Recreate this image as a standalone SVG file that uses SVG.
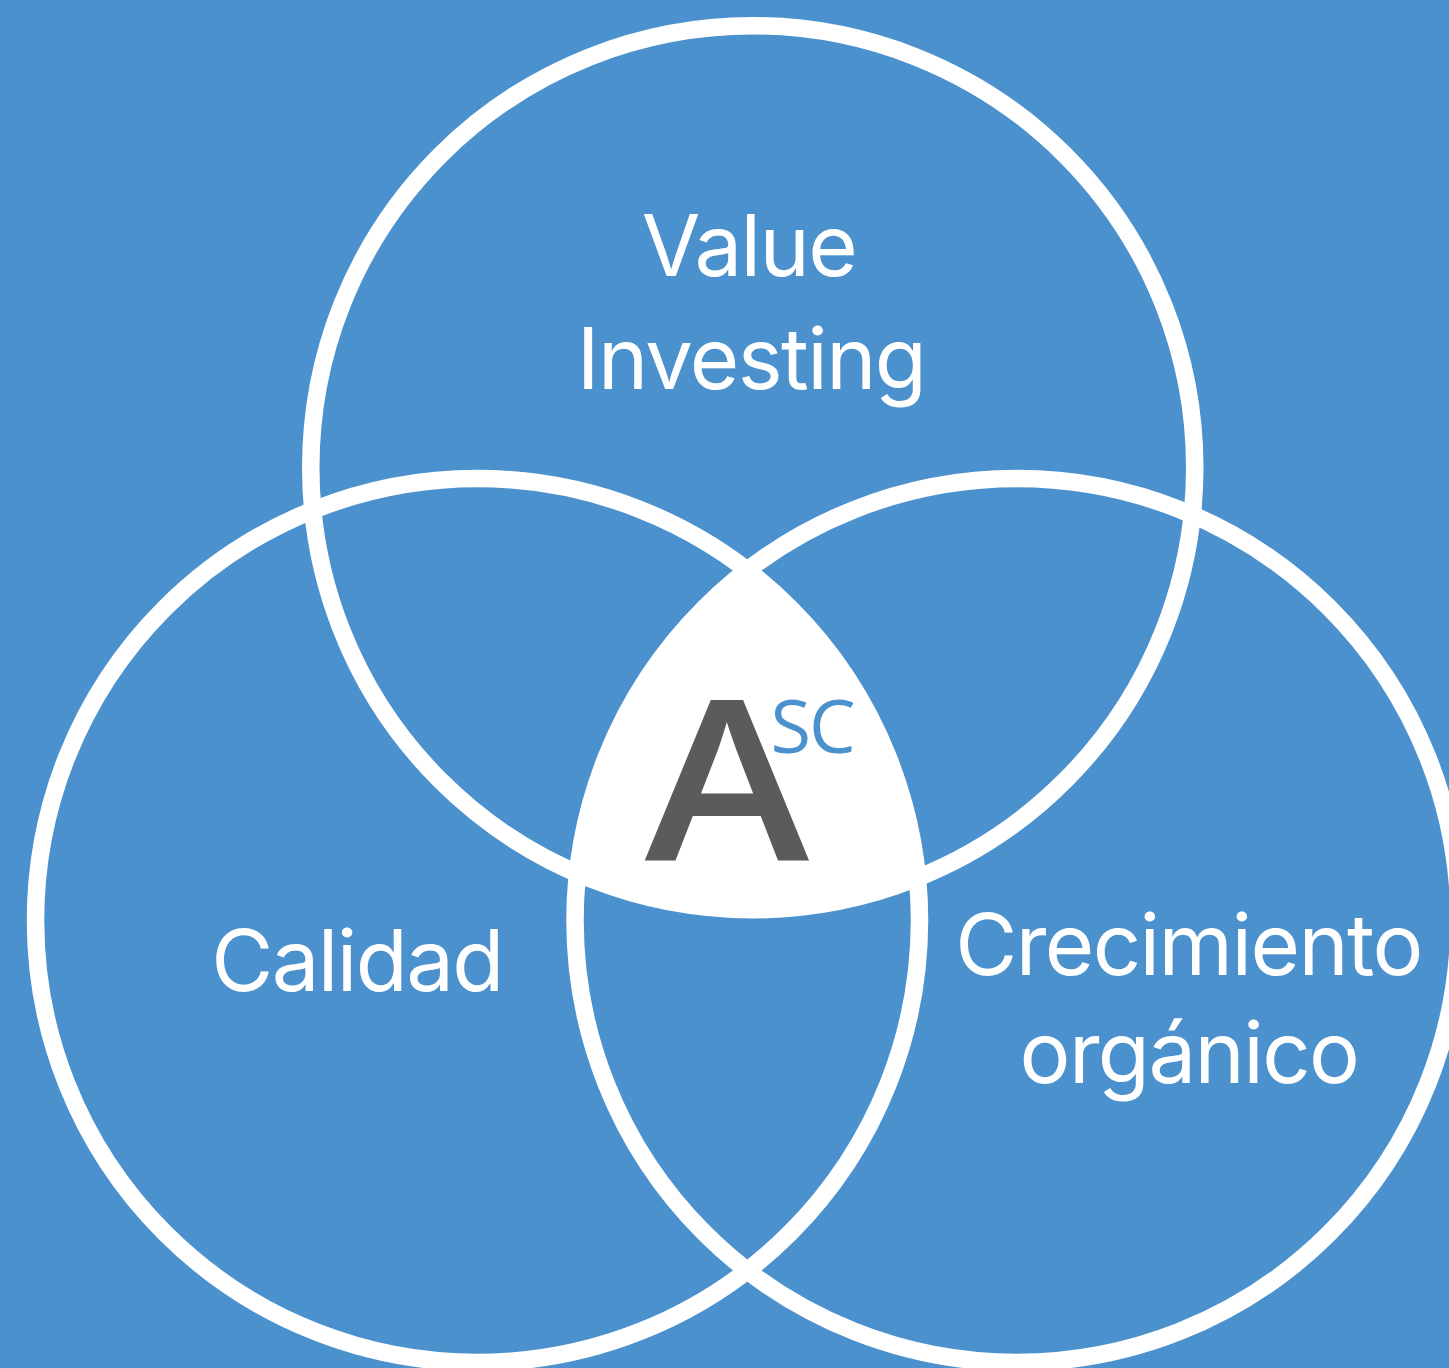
<svg xmlns="http://www.w3.org/2000/svg" width="1449" height="1368" viewBox="0 0 1449 1368">
<style>
.ring{fill:none;stroke:#ffffff;stroke-width:17.5}
.lbl{font-family:Inter,"Noto Sans","Liberation Sans",sans-serif;font-size:85px;letter-spacing:-1.6px;fill:#ffffff;text-anchor:middle}
</style>
<defs>
<clipPath id="cTop"><circle cx="752.75" cy="467.75" r="442"/></clipPath>
<clipPath id="cLeft"><circle cx="477.5" cy="920.5" r="442"/></clipPath>
</defs>
<rect width="1449" height="1368" fill="#4A91CE"/>
<g id="center-fill" clip-path="url(#cTop)"><g clip-path="url(#cLeft)"><circle cx="1017" cy="920.5" r="442" fill="#ffffff"/></g></g>
<g id="connectors">
<circle id="ring-top" class="ring" cx="752.75" cy="467.75" r="442"/>
<circle id="ring-left" class="ring" cx="477.5" cy="920.5" r="442"/>
<circle id="ring-right" class="ring" cx="1017" cy="920.5" r="442"/>
</g>
<g id="node-value"><text class="lbl" x="749" y="276">Value</text><text class="lbl" x="751" y="389">Investing</text></g>
<g id="node-calidad"><text class="lbl" x="357" y="991">Calidad</text></g>
<g id="node-crecimiento"><text class="lbl" x="1188.5" y="975">Crecimiento</text><text class="lbl" x="1189" y="1083">orgánico</text></g>
<g id="node-asc">
<text transform="translate(727,860) scale(1.11,1)" x="0" y="0" font-family="'Open Sans','Liberation Sans',sans-serif" font-weight="600" font-size="224" fill="#5B5B5D" text-anchor="middle">A</text>
<text x="812" y="753" font-family="'Open Sans','Liberation Sans',sans-serif" font-size="74" letter-spacing="-2" fill="#4A91CE" text-anchor="middle">SC</text>
</g>
</svg>
